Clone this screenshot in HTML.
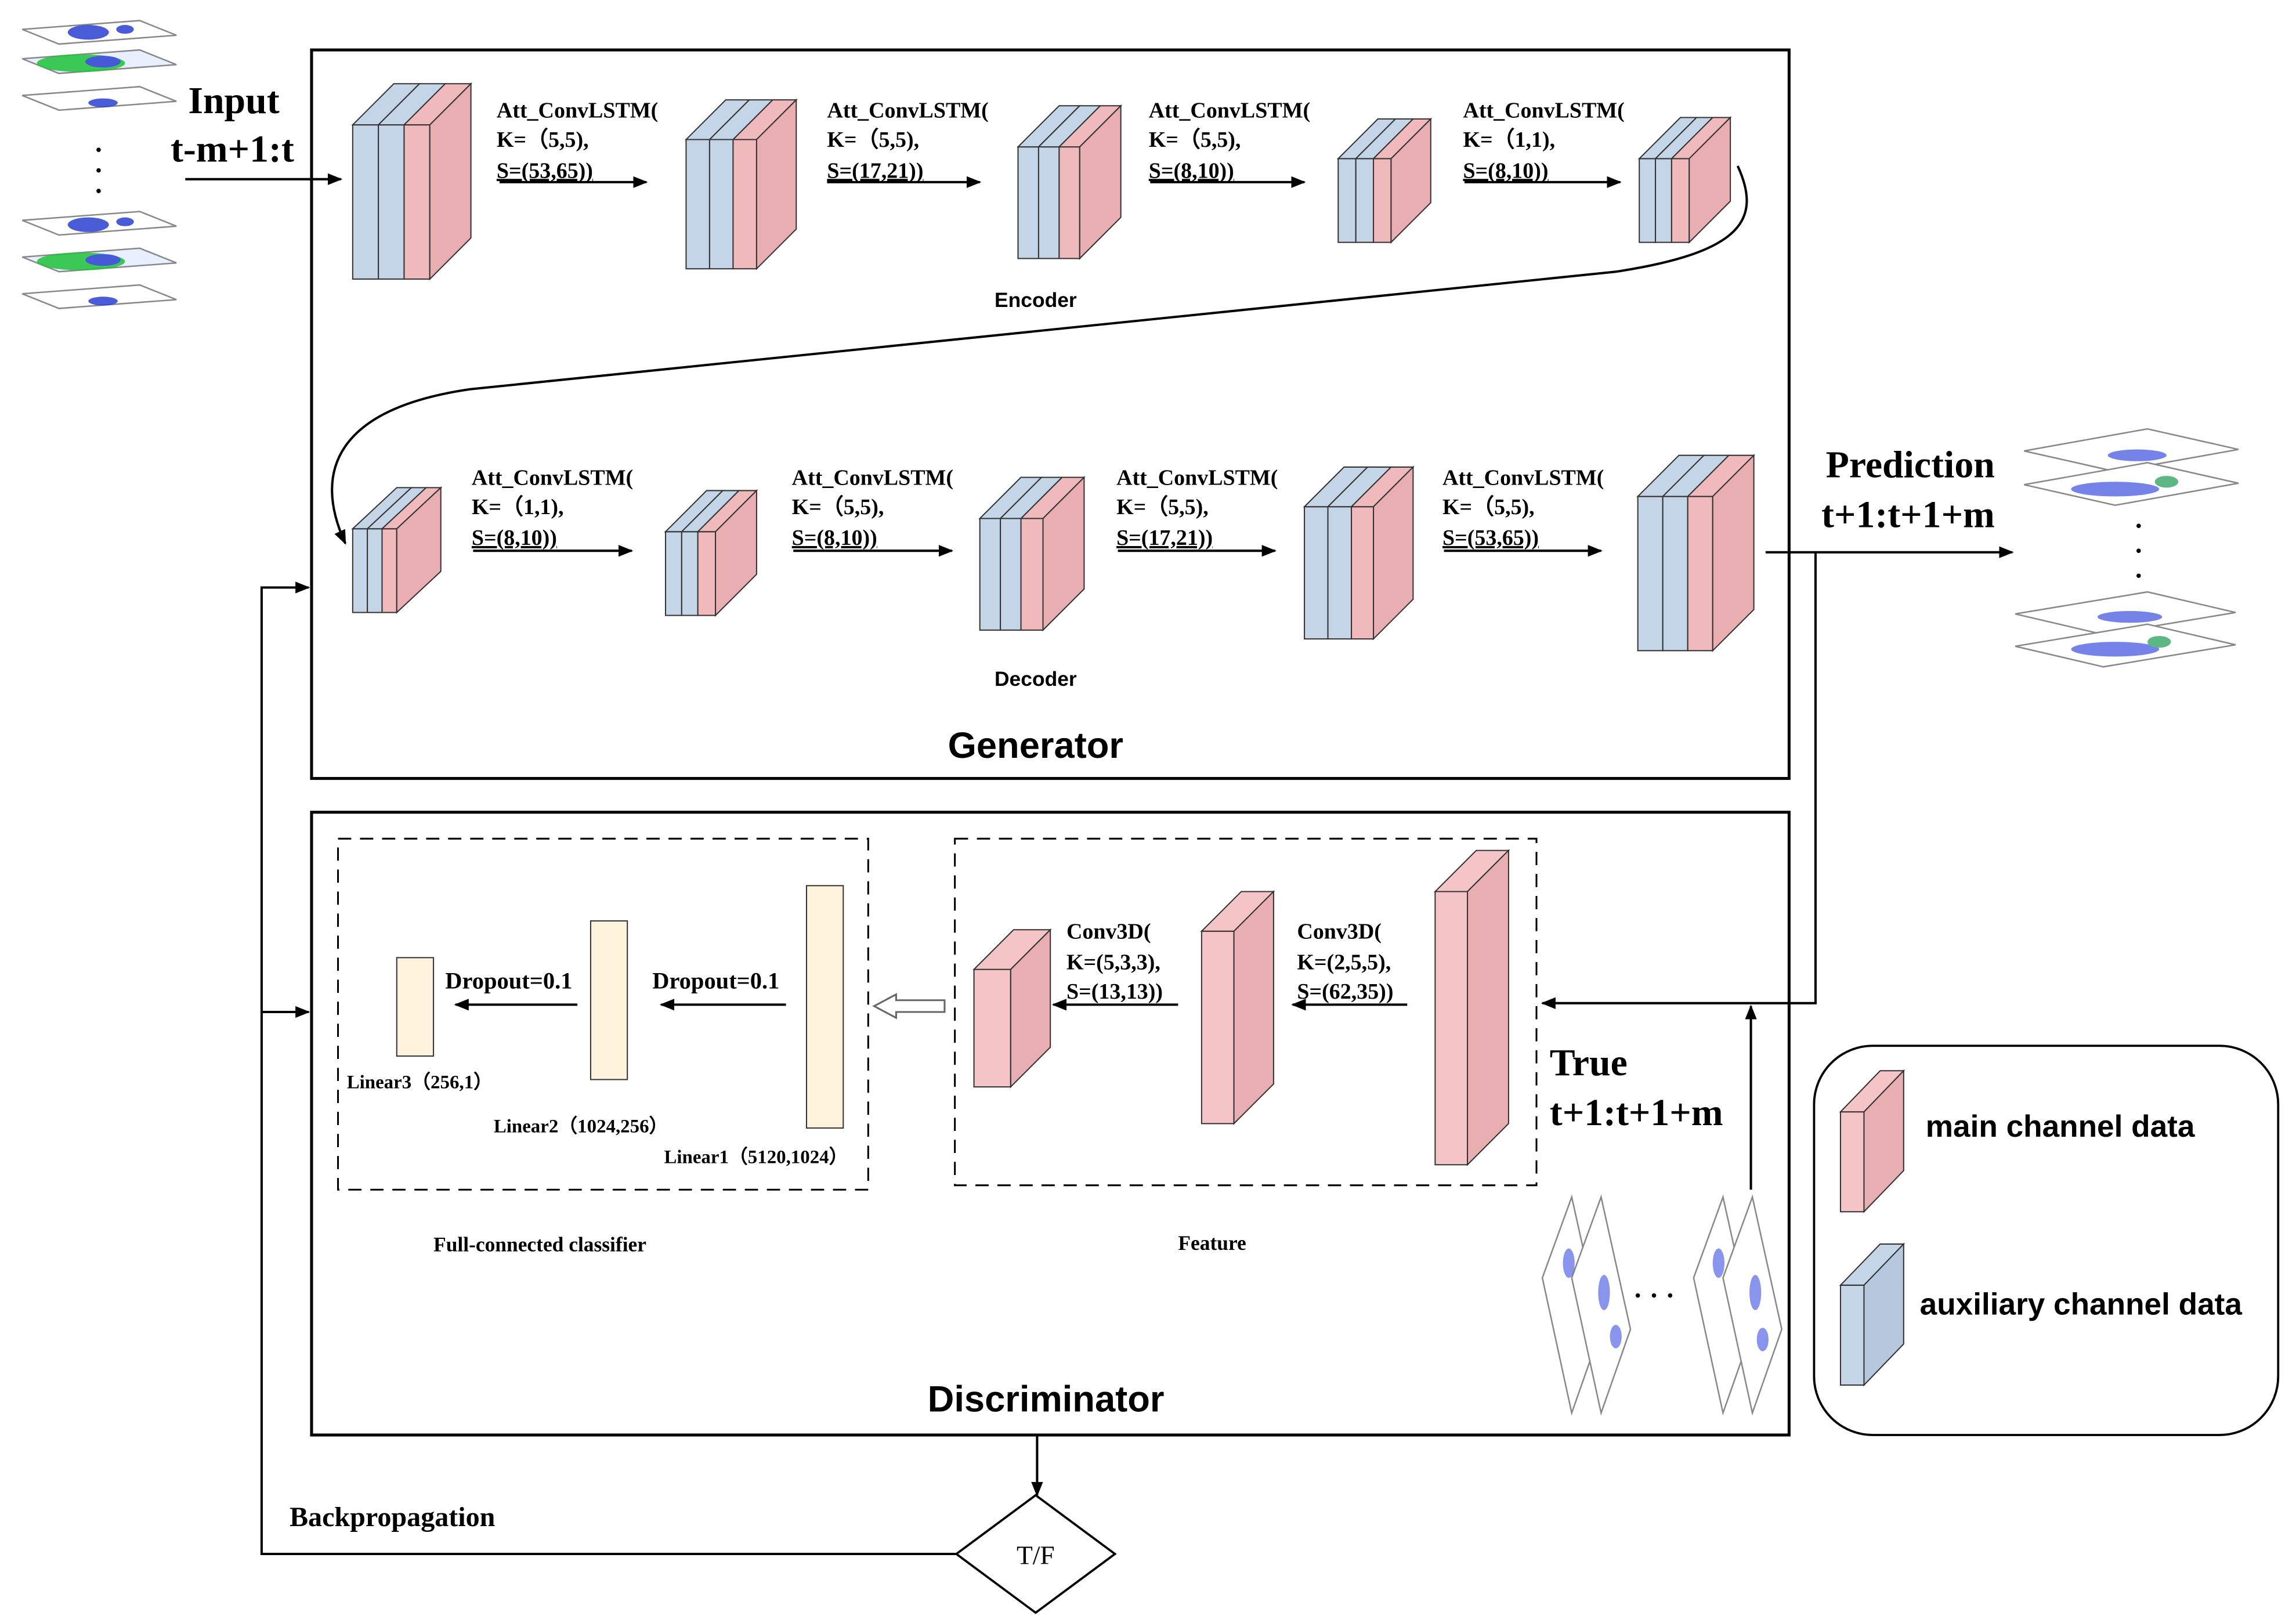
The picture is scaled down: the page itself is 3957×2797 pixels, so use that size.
<!DOCTYPE html>
<html><head><meta charset="utf-8"><style>
html,body{margin:0;padding:0;background:#fff}
svg{display:block}
.s{font-family:"Liberation Serif",serif;font-weight:bold}
.a{font-family:"Liberation Sans",sans-serif;font-weight:bold}
</style></head><body>
<svg width="3957" height="2797" viewBox="0 0 1563 1105" xmlns="http://www.w3.org/2000/svg">
<defs>
<marker id="ar" markerWidth="10" markerHeight="10" refX="9" refY="5" orient="auto" markerUnits="userSpaceOnUse"><path d="M0,1 L10,5 L0,9 z" fill="#000"/></marker>
</defs>
<rect width="1563" height="1105" fill="#fff"/>

<!-- frames -->
<rect x="212" y="34" width="1006" height="496" fill="none" stroke="#000" stroke-width="2"/>
<rect x="212" y="553" width="1006" height="424" fill="none" stroke="#000" stroke-width="2"/>
<rect x="230" y="571" width="361" height="239" fill="none" stroke="#000" stroke-width="1.2" stroke-dasharray="9,6"/>
<rect x="650" y="571" width="396" height="236" fill="none" stroke="#000" stroke-width="1.2" stroke-dasharray="9,6"/>
<rect x="1235" y="712" width="316" height="265" rx="40" fill="none" stroke="#000" stroke-width="1.5"/>

<g stroke="#333" stroke-width="0.8">
<!-- Encoder boxes: layers blue,blue,pink -->
<!-- E1 x240 y85 lw17.5 h105 d28 -->
<g>
<rect x="240" y="85" width="17.5" height="105" fill="#c4d5e8"/><rect x="257.5" y="85" width="17.5" height="105" fill="#c4d5e8"/><rect x="275" y="85" width="17.5" height="105" fill="#f0b9bb"/>
<polygon points="240,85 257.5,85 285.5,57 268,57" fill="#c4d5e8"/><polygon points="257.5,85 275,85 303,57 285.5,57" fill="#c4d5e8"/><polygon points="275,85 292.5,85 320.5,57 303,57" fill="#f0b9bb"/>
<polygon points="292.5,85 320.5,57 320.5,162 292.5,190" fill="#e8aeb1"/>
</g>
<g>
<rect x="467" y="95" width="16" height="88" fill="#c4d5e8"/><rect x="483" y="95" width="16" height="88" fill="#c4d5e8"/><rect x="499" y="95" width="16" height="88" fill="#f0b9bb"/>
<polygon points="467,95 483,95 510,68 494,68" fill="#c4d5e8"/><polygon points="483,95 499,95 526,68 510,68" fill="#c4d5e8"/><polygon points="499,95 515,95 542,68 526,68" fill="#f0b9bb"/>
<polygon points="515,95 542,68 542,156 515,183" fill="#e8aeb1"/>
</g>
<g>
<rect x="693" y="100" width="14" height="76" fill="#c4d5e8"/><rect x="707" y="100" width="14" height="76" fill="#c4d5e8"/><rect x="721" y="100" width="14" height="76" fill="#f0b9bb"/>
<polygon points="693,100 707,100 735,72 721,72" fill="#c4d5e8"/><polygon points="707,100 721,100 749,72 735,72" fill="#c4d5e8"/><polygon points="721,100 735,100 763,72 749,72" fill="#f0b9bb"/>
<polygon points="735,100 763,72 763,148 735,176" fill="#e8aeb1"/>
</g>
<g>
<rect x="911" y="108" width="12" height="57" fill="#c4d5e8"/><rect x="923" y="108" width="12" height="57" fill="#c4d5e8"/><rect x="935" y="108" width="12" height="57" fill="#f0b9bb"/>
<polygon points="911,108 923,108 950,81 938,81" fill="#c4d5e8"/><polygon points="923,108 935,108 962,81 950,81" fill="#c4d5e8"/><polygon points="935,108 947,108 974,81 962,81" fill="#f0b9bb"/>
<polygon points="947,108 974,81 974,138 947,165" fill="#e8aeb1"/>
</g>
<g>
<rect x="1116" y="108" width="11" height="57" fill="#c4d5e8"/><rect x="1127" y="108" width="11" height="57" fill="#c4d5e8"/><rect x="1138" y="108" width="12" height="57" fill="#f0b9bb"/>
<polygon points="1116,108 1127,108 1155,80 1144,80" fill="#c4d5e8"/><polygon points="1127,108 1138,108 1166,80 1155,80" fill="#c4d5e8"/><polygon points="1138,108 1150,108 1178,80 1166,80" fill="#f0b9bb"/>
<polygon points="1150,108 1178,80 1178,137 1150,165" fill="#e8aeb1"/>
</g>
<!-- Decoder -->
<g>
<rect x="240" y="360" width="10" height="57" fill="#c4d5e8"/><rect x="250" y="360" width="10" height="57" fill="#c4d5e8"/><rect x="260" y="360" width="10" height="57" fill="#f0b9bb"/>
<polygon points="240,360 250,360 280,332 270,332" fill="#c4d5e8"/><polygon points="250,360 260,360 290,332 280,332" fill="#c4d5e8"/><polygon points="260,360 270,360 300,332 290,332" fill="#f0b9bb"/>
<polygon points="270,360 300,332 300,389 270,417" fill="#e8aeb1"/>
</g>
<g>
<rect x="453" y="362" width="11" height="57" fill="#c4d5e8"/><rect x="464" y="362" width="11" height="57" fill="#c4d5e8"/><rect x="475" y="362" width="12" height="57" fill="#f0b9bb"/>
<polygon points="453,362 464,362 492,334 481,334" fill="#c4d5e8"/><polygon points="464,362 475,362 503,334 492,334" fill="#c4d5e8"/><polygon points="475,362 487,362 515,334 503,334" fill="#f0b9bb"/>
<polygon points="487,362 515,334 515,391 487,419" fill="#e8aeb1"/>
</g>
<g>
<rect x="667" y="353" width="14" height="76" fill="#c4d5e8"/><rect x="681" y="353" width="14" height="76" fill="#c4d5e8"/><rect x="695" y="353" width="15" height="76" fill="#f0b9bb"/>
<polygon points="667,353 681,353 709,325 695,325" fill="#c4d5e8"/><polygon points="681,353 695,353 723,325 709,325" fill="#c4d5e8"/><polygon points="695,353 710,353 738,325 723,325" fill="#f0b9bb"/>
<polygon points="710,353 738,325 738,401 710,429" fill="#e8aeb1"/>
</g>
<g>
<rect x="888" y="345" width="16" height="90" fill="#c4d5e8"/><rect x="904" y="345" width="16" height="90" fill="#c4d5e8"/><rect x="920" y="345" width="15" height="90" fill="#f0b9bb"/>
<polygon points="888,345 904,345 931,318 915,318" fill="#c4d5e8"/><polygon points="904,345 920,345 947,318 931,318" fill="#c4d5e8"/><polygon points="920,345 935,345 962,318 947,318" fill="#f0b9bb"/>
<polygon points="935,345 962,318 962,408 935,435" fill="#e8aeb1"/>
</g>
<g>
<rect x="1115" y="338" width="17" height="105" fill="#c4d5e8"/><rect x="1132" y="338" width="17" height="105" fill="#c4d5e8"/><rect x="1149" y="338" width="17" height="105" fill="#f0b9bb"/>
<polygon points="1115,338 1132,338 1160,310 1143,310" fill="#c4d5e8"/><polygon points="1132,338 1149,338 1177,310 1160,310" fill="#c4d5e8"/><polygon points="1149,338 1166,338 1194,310 1177,310" fill="#f0b9bb"/>
<polygon points="1166,338 1194,310 1194,415 1166,443" fill="#e8aeb1"/>
</g>
<!-- Discriminator features -->
<g>
<rect x="663" y="660" width="25" height="80" fill="#f5c4c6"/><polygon points="663,660 688,660 715,633 690,633" fill="#f5c4c6"/><polygon points="688,660 715,633 715,713 688,740" fill="#e8aeb1"/>
<rect x="818" y="634" width="22" height="131" fill="#f5c4c6"/><polygon points="818,634 840,634 867,607 845,607" fill="#f5c4c6"/><polygon points="840,634 867,607 867,738 840,765" fill="#e8aeb1"/>
<rect x="977" y="607" width="22" height="186" fill="#f5c4c6"/><polygon points="977,607 999,607 1027,579 1005,579" fill="#f5c4c6"/><polygon points="999,607 1027,579 1027,765 999,793" fill="#e8aeb1"/>
</g>
<!-- Linear -->
<rect x="270" y="652" width="25" height="67" fill="#fdf3dc"/>
<rect x="402" y="627" width="25" height="108" fill="#fdf3dc"/>
<rect x="549" y="603" width="25" height="165" fill="#fdf3dc"/>
<!-- legend -->
<rect x="1253" y="757" width="16" height="68" fill="#f5c4c6"/><polygon points="1253,757 1269,757 1296,729 1280,729" fill="#f5c4c6"/><polygon points="1269,757 1296,729 1296,797 1269,825" fill="#e8aeb1"/>
<rect x="1253" y="875" width="16" height="68" fill="#c4d5e8"/><polygon points="1253,875 1269,875 1296,847 1280,847" fill="#c4d5e8"/><polygon points="1269,875 1296,847 1296,915 1269,943" fill="#b5c8de"/>
</g>

<!-- arrows -->
<g stroke="#000" stroke-width="1.6" fill="none" marker-end="url(#ar)">
<line x1="126" y1="122" x2="232" y2="122"/>
<line x1="340" y1="124" x2="440" y2="124"/>
<line x1="563" y1="124" x2="667" y2="124"/>
<line x1="783" y1="124" x2="888" y2="124"/>
<line x1="997" y1="124" x2="1103" y2="124"/>
<path d="M1183,113 C1200,150 1185,172 1100,185 L320,265 C230,278 212,320 235,370"/>
<line x1="322" y1="375" x2="430" y2="375"/>
<line x1="540" y1="375" x2="648" y2="375"/>
<line x1="761" y1="375" x2="868" y2="375"/>
<line x1="983" y1="375" x2="1090" y2="375"/>
<line x1="1202" y1="376" x2="1370" y2="376"/>
<polyline points="1236,376 1236,683 1050,683"/>
<line x1="1192" y1="810" x2="1192" y2="685"/>
<line x1="958" y1="684" x2="880" y2="684"/>
<line x1="802" y1="684" x2="717" y2="684"/>
<line x1="535" y1="684" x2="450" y2="684"/>
<line x1="393" y1="684" x2="310" y2="684"/>
<line x1="706" y1="977" x2="706" y2="1018"/>
<polyline points="651,1058 178,1058 178,400 210,400"/>
<line x1="178" y1="689" x2="210" y2="689"/>
</g>
<polygon points="643,681 610,681 610,677 595,685 610,693 610,689 643,689" fill="#fff" stroke="#666" stroke-width="1.2"/>
<polygon points="705,1018 759,1058 705,1098 651,1058" fill="#fff" stroke="#000" stroke-width="1.5"/>
<text x="705" y="1065" font-family="Liberation Serif,serif" font-size="18" text-anchor="middle">T/F</text>

<!-- texts -->
<g class="s" font-size="15">
<text x="338" y="80">Att_ConvLSTM(</text><text x="338" y="100">K=（5,5),</text><text x="338" y="121" text-decoration="underline">S=(53,65))</text>
<text x="563" y="80">Att_ConvLSTM(</text><text x="563" y="100">K=（5,5),</text><text x="563" y="121" text-decoration="underline">S=(17,21))</text>
<text x="782" y="80">Att_ConvLSTM(</text><text x="782" y="100">K=（5,5),</text><text x="782" y="121" text-decoration="underline">S=(8,10))</text>
<text x="996" y="80">Att_ConvLSTM(</text><text x="996" y="100">K=（1,1),</text><text x="996" y="121" text-decoration="underline">S=(8,10))</text>
<text x="321" y="330">Att_ConvLSTM(</text><text x="321" y="350">K=（1,1),</text><text x="321" y="371" text-decoration="underline">S=(8,10))</text>
<text x="539" y="330">Att_ConvLSTM(</text><text x="539" y="350">K=（5,5),</text><text x="539" y="371" text-decoration="underline">S=(8,10))</text>
<text x="760" y="330">Att_ConvLSTM(</text><text x="760" y="350">K=（5,5),</text><text x="760" y="371" text-decoration="underline">S=(17,21))</text>
<text x="982" y="330">Att_ConvLSTM(</text><text x="982" y="350">K=（5,5),</text><text x="982" y="371" text-decoration="underline">S=(53,65))</text>
<text x="726" y="639">Conv3D(</text><text x="726" y="660">K=(5,3,3),</text><text x="726" y="680">S=(13,13))</text>
<text x="883" y="639">Conv3D(</text><text x="883" y="660">K=(2,5,5),</text><text x="883" y="680">S=(62,35))</text>
<text x="303" y="673" font-size="16">Dropout=0.1</text>
<text x="444" y="673" font-size="16">Dropout=0.1</text>
<text x="236" y="741" font-size="13">Linear3（256,1）</text>
<text x="336" y="771" font-size="13">Linear2（1024,256）</text>
<text x="452" y="792" font-size="13">Linear1（5120,1024）</text>
<text x="295" y="852" font-size="14">Full-connected classifier</text>
<text x="802" y="851" font-size="14">Feature</text>
<text x="197" y="1039" font-size="19">Backpropagation</text>
</g>
<g class="s" font-size="26">
<text x="128" y="77">Input</text><text x="116" y="110">t-m+1:t</text>
<text x="1243" y="325">Prediction</text><text x="1240" y="359">t+1:t+1+m</text>
<text x="1055" y="732">True</text><text x="1055" y="766">t+1:t+1+m</text>
</g>
<g class="a">
<text x="705" y="209" font-size="14" text-anchor="middle">Encoder</text>
<text x="705" y="467" font-size="14" text-anchor="middle">Decoder</text>
<text x="705" y="516" font-size="25" text-anchor="middle">Generator</text>
<text x="712" y="961" font-size="25" text-anchor="middle">Discriminator</text>
<text x="1311" y="774" font-size="21">main channel data</text>
<text x="1307" y="895" font-size="21">auxiliary channel data</text>
</g>

<!-- radar sheets top-left -->
<g stroke="#888" stroke-width="1">
<polygon points="15,20 95,14 120,24 40,30" fill="#fff"/>
<polygon points="15,40 95,34 120,44 40,50" fill="#e8f0ff"/>
<polygon points="15,65 95,59 120,69 40,75" fill="#fff"/>
<polygon points="15,150 95,144 120,154 40,160" fill="#fff"/>
<polygon points="15,175 95,169 120,179 40,185" fill="#e8f0ff"/>
<polygon points="15,200 95,194 120,204 40,210" fill="#fff"/>
</g>
<g fill="#2a3fd0" opacity="0.85">
<ellipse cx="60" cy="22" rx="14" ry="5"/><ellipse cx="85" cy="20" rx="6" ry="3"/>
<ellipse cx="55" cy="43" rx="30" ry="6" fill="#1fc23a"/><ellipse cx="70" cy="42" rx="12" ry="4"/>
<ellipse cx="70" cy="70" rx="10" ry="3"/>
<ellipse cx="60" cy="153" rx="14" ry="5"/><ellipse cx="85" cy="151" rx="6" ry="3"/>
<ellipse cx="55" cy="178" rx="30" ry="6" fill="#1fc23a"/><ellipse cx="70" cy="177" rx="12" ry="4"/>
<ellipse cx="70" cy="205" rx="10" ry="3"/>
</g>
<g fill="#000"><circle cx="67" cy="102" r="1.5"/><circle cx="67" cy="116" r="1.5"/><circle cx="67" cy="130" r="1.5"/></g>

<!-- prediction sheets -->
<g stroke="#888" stroke-width="1" fill="#fff">
<polygon points="1378,307 1462,292 1524,306 1440,321"/>
<polygon points="1378,330 1462,315 1524,329 1440,344"/>
<polygon points="1372,418 1462,403 1522,417 1432,432"/>
<polygon points="1372,440 1462,425 1522,439 1432,454"/>
</g>
<g fill="#3b4fe0" opacity="0.7">
<ellipse cx="1455" cy="310" rx="20" ry="4"/><ellipse cx="1440" cy="333" rx="30" ry="5"/><ellipse cx="1475" cy="328" rx="8" ry="4" fill="#1a9a50"/>
<ellipse cx="1450" cy="420" rx="22" ry="4"/><ellipse cx="1440" cy="442" rx="30" ry="5"/><ellipse cx="1470" cy="437" rx="8" ry="4" fill="#1a9a50"/>
</g>
<g fill="#000"><circle cx="1456" cy="358" r="1.5"/><circle cx="1456" cy="375" r="1.5"/><circle cx="1456" cy="392" r="1.5"/></g>

<!-- true sheets -->
<g stroke="#888" stroke-width="1" fill="#fff">
<polygon points="1050,870 1070,815 1090,905 1070,962"/>
<polygon points="1070,870 1090,815 1110,905 1090,962"/>
<polygon points="1153,870 1173,815 1193,905 1173,962"/>
<polygon points="1173,870 1193,815 1213,905 1193,962"/>
</g>
<g fill="#3b4fe0" opacity="0.6">
<ellipse cx="1068" cy="860" rx="4" ry="10"/><ellipse cx="1092" cy="880" rx="4" ry="12"/><ellipse cx="1100" cy="910" rx="4" ry="8"/>
<ellipse cx="1170" cy="860" rx="4" ry="10"/><ellipse cx="1195" cy="880" rx="4" ry="12"/><ellipse cx="1200" cy="912" rx="4" ry="8"/>
</g>
<g fill="#000"><circle cx="1115" cy="882" r="1.5"/><circle cx="1126" cy="882" r="1.5"/><circle cx="1137" cy="882" r="1.5"/></g>
</svg>
</body></html>
